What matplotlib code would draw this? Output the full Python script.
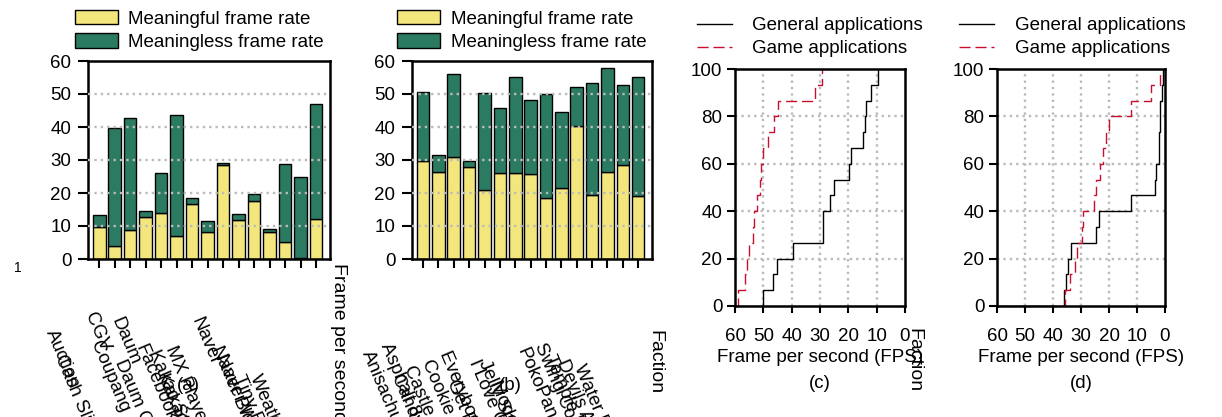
import matplotlib.pyplot as plt
import numpy as np
from matplotlib.transforms import ScaledTranslation

plt.rcParams['font.family'] = ['Liberation Sans', 'DejaVu Sans']
plt.rcParams['font.size'] = 13.5

# (a) general applications
apps_a = ["Auction", "Cash Slide", "CGV", "Coupang", "Daum", "Daum Cafe", "Facebook",
          "Kakao Story", "KakaoTalk", "MX Player", "Naver", "Naver Blog",
          "Naver Webtoon", "Tiny Flashlight", "Weather"]
good_a = [9.7, 3.9, 8.9, 12.7, 14.0, 6.9, 16.8, 8.3, 28.5, 11.7, 17.7, 8.3, 5.2, 0.3, 12.2]
bad_a = [3.7, 35.8, 33.8, 1.8, 12.2, 36.7, 1.8, 3.3, 0.5, 2.0, 1.9, 0.8, 23.5, 24.4, 34.8]

# (b) game applications
apps_b = ["Anisachunki", "Asphalt 8", "Candy Crush", "Castle Burn", "Cookie Run",
          "Everybody's Marble", "Get Rich", "I Love Coffee", "Jelly Splash",
          "Modoo Marble", "PokoPang", "Swing Copters", "Temple Run", "Devils Attack",
          "Water Park"]
good_b = [29.7, 26.4, 30.8, 27.8, 20.8, 26.2, 26.2, 25.9, 18.6, 21.6, 40.3, 19.5, 26.4, 28.4, 19.2]
bad_b = [21.0, 5.0, 25.4, 1.8, 29.5, 19.6, 29.0, 22.3, 31.4, 23.0, 11.9, 33.9, 31.6, 24.4, 36.0]

# (c)/(d) frame rates per app, sorted high -> low
fps_c_general = [50.2, 46.7, 45.3, 39.6, 29.1, 28.8, 26.5, 25.1, 19.6, 19.2, 15.0, 14.1, 13.9, 12.0, 9.4]
fps_c_game = [58.8, 56.5, 55.9, 55.1, 53.8, 53.3, 52.4, 51.2, 50.8, 50.0, 48.2, 46.1, 44.7, 31.8, 29.4]
fps_d_general = [35.9, 35.5, 34.6, 33.6, 24.6, 23.6, 12.2, 3.7, 3.3, 2.1, 2.0, 1.8, 1.65, 1.2, 0.8]
fps_d_game = [35.8, 34.0, 32.2, 31.4, 29.5, 29.3, 25.4, 24.6, 23.1, 22.2, 21.0, 20.1, 12.2, 5.1, 1.9]

# label offsets (pixels) from each tick -- the original labels are scattered
dx_a = [-41, -48, -33, -43, -38, -50, -45, -47, -55, -61, -51, -46, -57, -55, -54]
drop_a = [68, 93, 51, 79, 56, 98, 83, 88, 113, 84, 56, 84, 93, 113, 113]
dx_b = [-49, -46, -50, -53, -51, -48, -56, -50, -55, -59, -48, -45, -51, -54, -52]
drop_b = [89, 81, 112, 104, 98, 89, 118, 98, 98, 119, 86, 81, 93, 98, 103]

yellow = "#F2E67C"
green = "#2B7A62"
red = "#C8102E"
gridc = "#BBBBBB"

W, H = 1222, 417
fig = plt.figure(figsize=(W / 100, H / 100), dpi=100)


def px_axes(l, t, r, b):
    return fig.add_axes([l / W, 1 - b / H, (r - l) / W, (b - t) / H])


def frame(ax):
    for s in ax.spines.values():
        s.set_linewidth(1.8)


def bar_panel(ax, names, good, bad, dx, drop, leg_x):
    x = np.arange(len(names))
    ax.bar(x, good, width=0.82, color=yellow, edgecolor="black", lw=1,
           label="Meaningful frame rate", zorder=2)
    ax.bar(x, bad, bottom=good, width=0.82, color=green, edgecolor="black", lw=1,
           label="Meaningless frame rate", zorder=2)
    for y in range(10, 60, 10):
        ax.axhline(y, color=gridc, lw=1.7, dashes=(1, 1.7), zorder=3)
    ax.set_xlim(-0.72, len(names) - 0.1)
    ax.set_ylim(0, 60)
    ax.set_xticks(x)
    ax.set_xticklabels([])
    ax.set_yticks(range(0, 61, 10))
    ax.tick_params(axis="x", direction="out", length=6.5, width=1.5)
    ax.tick_params(axis="y", direction="out", length=7, width=1.5, pad=5)
    frame(ax)
    for i, name in enumerate(names):
        tr = ax.get_xaxis_transform() + ScaledTranslation(dx[i] / 100, -drop[i] / 100,
                                                          fig.dpi_scale_trans)
        ax.text(x[i], 0, name, transform=tr, rotation=-67, rotation_mode="anchor",
                ha="left", va="top")
    ax.legend(loc="lower left", bbox_to_anchor=(leg_x, 1.05), frameon=False,
              borderpad=0, borderaxespad=0, handlelength=2.3, handleheight=0.8,
              handletextpad=0.55, labelspacing=0.3, fontsize=13.5)


def cdf_panel(ax, gen, game):
    y = np.arange(len(gen) + 1) * 100 / len(gen)
    for v in range(10, 60, 10):
        ax.axvline(v, color=gridc, lw=1.7, dashes=(1, 1.7), zorder=0.5)
    for v in range(20, 100, 20):
        ax.axhline(v, color=gridc, lw=1.7, dashes=(1, 1.7), zorder=0.5)
    ax.plot(np.r_[60, gen], y, drawstyle="steps-post", color="black", lw=1,
            label="General applications")
    ax.plot(np.r_[60, game], y, drawstyle="steps-post", color=red, lw=1,
            dashes=(8, 3.5), label="Game applications")
    ax.set_xlim(60, 0)
    ax.set_ylim(0, 100)
    ax.set_xticks(range(60, -1, -10))
    ax.set_yticks(range(0, 101, 20))
    ax.tick_params(axis="x", direction="out", length=5, width=1.5, pad=11)
    ax.tick_params(axis="y", direction="out", length=5.5, width=1.5, pad=3.5)
    frame(ax)
    ax.set_xlabel("Frame per second (FPS)", labelpad=3)
    ax.legend(loc="lower left", bbox_to_anchor=(-0.224, 1.05), frameon=False,
              borderpad=0, borderaxespad=0, handlelength=1.85, handletextpad=1.1,
              labelspacing=0.3, fontsize=13.5)


ax_a = px_axes(88, 61, 330, 259)
bar_panel(ax_a, apps_a, good_a, bad_a, dx_a, drop_a, -0.054)
ax_b = px_axes(412, 61, 652, 259)
bar_panel(ax_b, apps_b, good_b, bad_b, dx_b, drop_b, -0.062)
ax_c = px_axes(735, 69, 905, 306)
cdf_panel(ax_c, fps_c_general, fps_c_game)
ax_d = px_axes(997, 69, 1165, 306)
cdf_panel(ax_d, fps_d_general, fps_d_game)

# stray texts from the original rendering
fig.text(18 / W, 1 - 268 / H, "1", fontsize=10, ha="center", va="center")
fig.text(339 / W, 1 - 263 / H, "Frame per second", rotation=-90, ha="center", va="top",
         fontsize=14)
fig.text(655 / W, 1 - 330 / H, "Faction", rotation=-90, ha="center", va="top", fontsize=14)
fig.text(914 / W, 1 - 328 / H, "Faction", rotation=-90, ha="center", va="top", fontsize=14)
fig.text(188 / W, 1 - 386 / H, "(a)", ha="center", va="center")
fig.text(510 / W, 1 - 385 / H, "(b)", ha="center", va="center")
fig.text(820 / W, 1 - 384 / H, "(c)", ha="center", va="center")
fig.text(1081 / W, 1 - 384 / H, "(d)", ha="center", va="center")

fig.savefig("out.png", dpi=100)
